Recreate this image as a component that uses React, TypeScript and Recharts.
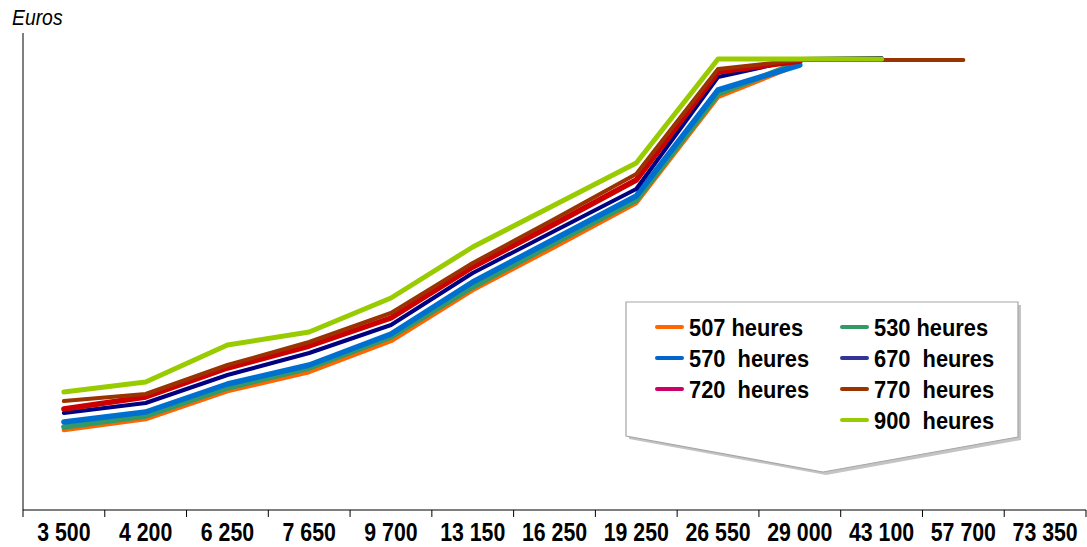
import { LineChart, Line, XAxis, YAxis } from 'recharts';

// Revenu annuel (catégories de l'axe X)
const CATEGORIES = [
  '3 500', '4 200', '6 250', '7 650', '9 700', '13 150', '16 250',
  '19 250', '26 550', '29 000', '43 100', '57 700', '73 350',
];

// Valeurs (axe sans graduation, unités relatives)
const H507 = [80, 91, 119, 138, 169, 220, 263, 307, 413, 446];
const H530 = [83, 94, 122, 142, 173, 223, 267, 310, 416, 448];
const H570 = [88, 98, 126, 145, 176, 228, 271, 314, 420, 445];
const H670 = [97, 107, 135, 157, 185, 237, 279, 321, 433, 451, 452];
const H720 = [101, 113, 142, 164, 192, 243, 286, 330, 438, 449];
const H770 = [109, 116, 145, 168, 197, 247, 291, 336, 441, 450, 450, 450];
const H900 = [118, 128, 165, 178, 212, 263, 305, 347, 451, 451, 451];

const SERIES = [
  { key: 'h507', name: '507 heures', values: H507, color: '#FF6600', legend: '#FF6600', width: 4.5 },
  { key: 'h530', name: '530 heures', values: H530, color: '#339966', legend: '#339966', width: 5.5 },
  { key: 'h570', name: '570  heures', values: H570, color: '#0070D0', legend: '#0066CC', width: 5.5 },
  { key: 'h670', name: '670  heures', values: H670, color: '#000080', legend: '#333399', width: 4 },
  { key: 'h720', name: '720  heures', values: H720, color: '#CC0000', legend: '#CC0066', width: 5.5 },
  { key: 'h770', name: '770  heures', values: H770, color: '#993300', legend: '#993300', width: 4 },
  { key: 'h900', name: '900  heures', values: H900, color: '#99CC00', legend: '#99CC00', width: 5 },
];

const data = CATEGORIES.map((cat, i) => {
  const row: any = { cat };
  SERIES.forEach(s => {
    row[s.key] = s.values[i];
  });
  return row;
});

const W = 1087;
const H = 547;
const LEFT = 15;
const Y_W = 8;
const RIGHT = 1;
const BAND = (W - LEFT - Y_W - RIGHT) / CATEGORIES.length;
// pas de police étroite installée : Liberation Sans compressée horizontalement
const FONT = "'Liberation Sans', Arial, sans-serif";

const XTick = ({ x, y, payload, index }: any) => {
  const half = BAND / 2;
  return (
    <g>
      <line x1={x - half} x2={x - half} y1={y - 7} y2={y} stroke="#000" />
      {index === CATEGORIES.length - 1 && (
        <line x1={x + half} x2={x + half} y1={y - 7} y2={y} stroke="#000" />
      )}
      <text
        transform={`translate(${x},${y + 24}) scale(0.82,1)`}
        textAnchor="middle"
        fontFamily={FONT}
        fontWeight="bold"
        fontSize={26}
        fill="#000"
      >
        {payload.value}
      </text>
    </g>
  );
};

// Légende en forme de bulle (callout)
const CALLOUT = '626,302 1018,302 1018,437 823,472 626,436';
const COL_X = [657, 842];
const ROW_Y = [327, 358, 389, 420];
const LEGEND_POS = [
  [0, 0], [1, 0],
  [0, 1], [1, 1],
  [0, 2], [1, 2],
  [1, 3],
];

function Overlay() {
  return (
    <svg
      width={W}
      height={H}
      style={{ position: 'absolute', left: 0, top: 0, pointerEvents: 'none' }}
    >
      <text
        transform="translate(12,25) scale(0.88,1)"
        fontFamily={FONT}
        fontStyle="italic"
        fontSize={22}
        fill="#000"
      >
        Euros
      </text>
      <polygon points={CALLOUT} transform="translate(3,3)" fill="#c4c4c4" />
      <polygon points={CALLOUT} fill="#fff" stroke="#a6a6a6" strokeWidth={1.2} />
      {SERIES.map((s, i) => {
        const [c, r] = LEGEND_POS[i];
        const x = COL_X[c];
        const y = ROW_Y[r];
        return (
          <g key={s.key}>
            <line x1={x} x2={x + 25} y1={y} y2={y} stroke={s.legend} strokeWidth={4} strokeLinecap="round" />
            <text
              transform={`translate(${x + 32},${y + 9}) scale(0.91,1)`}
              fontFamily={FONT}
              fontWeight="bold"
              fontSize={24}
              fill="#000"
              style={{ whiteSpace: 'pre' }}
            >
              {s.name}
            </text>
          </g>
        );
      })}
    </svg>
  );
}

export default function App() {
  return (
    <div style={{ position: 'absolute', left: 0, top: 0, width: W, height: H, background: '#fff' }}>
      <LineChart width={W} height={H} data={data} margin={{ top: 33, right: RIGHT, left: LEFT, bottom: 0 }}>
        <XAxis
          dataKey="cat"
          scale="band"
          interval={0}
          height={37}
          tickSize={7}
          tickMargin={0}
          tickLine={false}
          axisLine={{ stroke: '#000' }}
          tick={<XTick />}
        />
        <YAxis
          width={Y_W}
          domain={[0, 477]}
          ticks={[0]}
          tick={false}
          tickSize={8}
          tickLine={{ stroke: '#000' }}
          axisLine={{ stroke: '#000' }}
        />
        {SERIES.map(s => (
          <Line
            key={s.key}
            dataKey={s.key}
            name={s.name}
            stroke={s.color}
            strokeWidth={s.width}
            strokeLinecap="round"
            strokeLinejoin="round"
            dot={false}
            activeDot={false}
            isAnimationActive={false}
          />
        ))}
      </LineChart>
      <Overlay />
    </div>
  );
}
